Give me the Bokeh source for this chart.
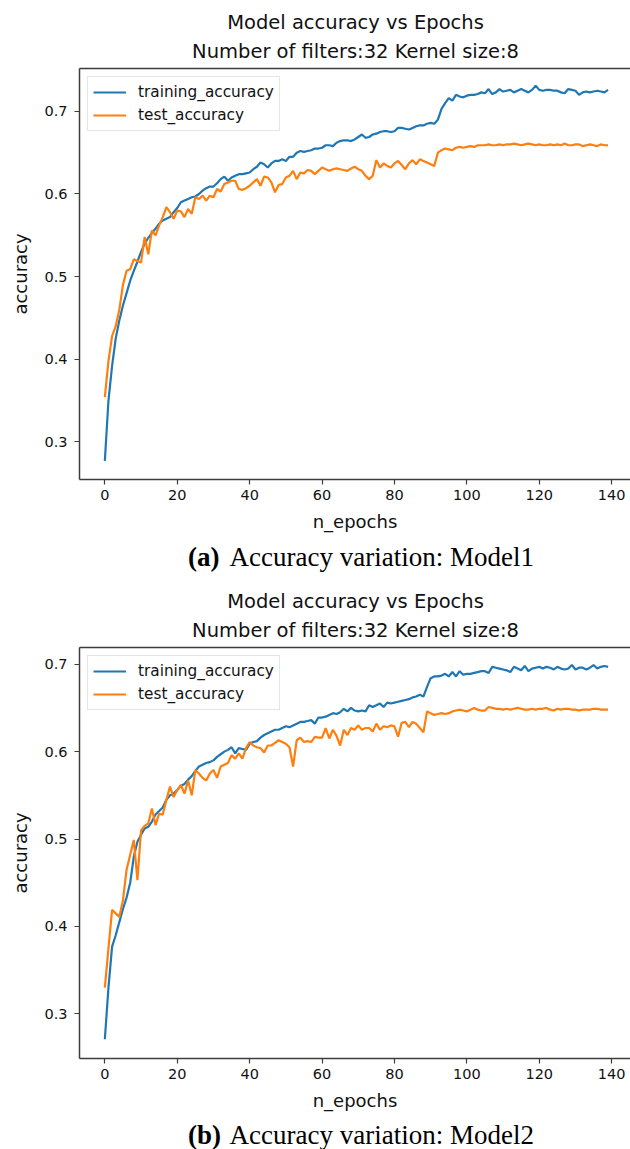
from bokeh.plotting import figure
from bokeh.models import Range1d, Label, LinearAxis, FixedTicker
from bokeh.layouts import column
from bokeh.embed import file_html
from bokeh.resources import INLINE

epochs = list(range(140))

m1_train = [
    0.277, 0.350, 0.392, 0.425, 0.447, 0.465, 0.480, 0.495, 0.507, 0.518,
    0.530, 0.540, 0.547, 0.553, 0.558, 0.564, 0.568, 0.570, 0.572, 0.578,
    0.583, 0.590, 0.592, 0.594, 0.596, 0.597, 0.600, 0.604, 0.607, 0.609,
    0.609, 0.613, 0.618, 0.621, 0.616, 0.620, 0.622, 0.624, 0.624, 0.625,
    0.626, 0.630, 0.633, 0.638, 0.636, 0.632, 0.637, 0.640, 0.640, 0.642,
    0.640, 0.645, 0.645, 0.650, 0.652, 0.651, 0.652, 0.653, 0.655, 0.655,
    0.656, 0.659, 0.659, 0.658, 0.662, 0.664, 0.665, 0.665, 0.664, 0.666,
    0.669, 0.672, 0.668, 0.669, 0.672, 0.673, 0.675, 0.676, 0.676, 0.675,
    0.676, 0.680, 0.680, 0.679, 0.678, 0.680, 0.682, 0.683, 0.683, 0.685,
    0.686, 0.685, 0.690, 0.703, 0.710, 0.716, 0.713, 0.720, 0.718, 0.717,
    0.719, 0.720, 0.720, 0.721, 0.723, 0.722, 0.727, 0.721, 0.723, 0.727,
    0.724, 0.725, 0.726, 0.723, 0.725, 0.727, 0.725, 0.723, 0.726, 0.731,
    0.726, 0.725, 0.726, 0.726, 0.725, 0.725, 0.723, 0.722, 0.727, 0.726,
    0.725, 0.720, 0.723, 0.724, 0.723, 0.724, 0.725, 0.724, 0.723, 0.726,
]

m1_test = [
    0.354, 0.398, 0.428, 0.440, 0.460, 0.490, 0.507, 0.509, 0.521, 0.519,
    0.517, 0.548, 0.527, 0.556, 0.550, 0.562, 0.572, 0.584, 0.578, 0.570,
    0.580, 0.579, 0.572, 0.582, 0.576, 0.596, 0.594, 0.598, 0.592, 0.598,
    0.596, 0.606, 0.603, 0.612, 0.614, 0.616, 0.616, 0.606, 0.605, 0.607,
    0.610, 0.614, 0.618, 0.610, 0.621, 0.620, 0.614, 0.602, 0.611, 0.612,
    0.620, 0.622, 0.628, 0.618, 0.626, 0.625, 0.629, 0.628, 0.624, 0.628,
    0.632, 0.630, 0.628, 0.630, 0.631, 0.630, 0.629, 0.628, 0.631, 0.633,
    0.630, 0.628, 0.622, 0.618, 0.622, 0.641, 0.632, 0.637, 0.634, 0.632,
    0.637, 0.640, 0.635, 0.630, 0.637, 0.641, 0.636, 0.642, 0.640, 0.638,
    0.636, 0.634, 0.650, 0.653, 0.655, 0.654, 0.653, 0.656, 0.657, 0.656,
    0.657, 0.658, 0.657, 0.659, 0.659, 0.659, 0.660, 0.659, 0.659, 0.660,
    0.659, 0.660, 0.660, 0.661, 0.660, 0.659, 0.660, 0.661, 0.660, 0.659,
    0.660, 0.659, 0.659, 0.660, 0.659, 0.660, 0.659, 0.661, 0.659, 0.659,
    0.660, 0.660, 0.658, 0.659, 0.660, 0.659, 0.658, 0.660, 0.659, 0.659,
]

m2_train = [
    0.271, 0.330, 0.377, 0.390, 0.405, 0.420, 0.433, 0.450, 0.480, 0.497,
    0.505, 0.512, 0.514, 0.520, 0.528, 0.532, 0.536, 0.545, 0.550, 0.552,
    0.556, 0.561, 0.563, 0.568, 0.572, 0.578, 0.583, 0.585, 0.587, 0.588,
    0.590, 0.594, 0.597, 0.600, 0.602, 0.605, 0.598, 0.604, 0.603, 0.602,
    0.609, 0.611, 0.612, 0.616, 0.619, 0.621, 0.623, 0.625, 0.625, 0.627,
    0.629, 0.628, 0.630, 0.632, 0.634, 0.634, 0.635, 0.636, 0.632, 0.639,
    0.639, 0.640, 0.642, 0.644, 0.643, 0.645, 0.649, 0.646, 0.650, 0.647,
    0.646, 0.647, 0.646, 0.653, 0.651, 0.653, 0.655, 0.651, 0.656, 0.655,
    0.656, 0.657, 0.658, 0.659, 0.660, 0.662, 0.663, 0.665, 0.663, 0.674,
    0.684, 0.686, 0.686, 0.687, 0.689, 0.686, 0.691, 0.686, 0.692, 0.688,
    0.689, 0.689, 0.690, 0.691, 0.692, 0.692, 0.690, 0.697, 0.696, 0.695,
    0.694, 0.693, 0.691, 0.697, 0.695, 0.693, 0.698, 0.692, 0.695, 0.696,
    0.697, 0.695, 0.697, 0.696, 0.694, 0.697, 0.695, 0.694, 0.695, 0.699,
    0.694, 0.696, 0.696, 0.694, 0.696, 0.699, 0.695, 0.697, 0.698, 0.697,
]

m2_test = [
    0.330, 0.375, 0.419, 0.415, 0.411, 0.430, 0.465, 0.482, 0.499, 0.453,
    0.510, 0.515, 0.518, 0.535, 0.516, 0.529, 0.528, 0.545, 0.560, 0.548,
    0.556, 0.562, 0.552, 0.567, 0.550, 0.579, 0.575, 0.570, 0.567, 0.575,
    0.579, 0.570, 0.583, 0.585, 0.587, 0.596, 0.592, 0.598, 0.592, 0.604,
    0.611, 0.607, 0.605, 0.604, 0.599, 0.607, 0.607, 0.610, 0.613, 0.611,
    0.609, 0.605, 0.583, 0.613, 0.616, 0.611, 0.612, 0.611, 0.617, 0.616,
    0.616, 0.627, 0.615, 0.625, 0.618, 0.607, 0.625, 0.619, 0.627, 0.625,
    0.630, 0.625, 0.627, 0.627, 0.623, 0.632, 0.625, 0.629, 0.628, 0.630,
    0.629, 0.617, 0.633, 0.634, 0.628, 0.634, 0.632, 0.627, 0.622, 0.646,
    0.644, 0.642, 0.643, 0.644, 0.643, 0.644, 0.646, 0.647, 0.648, 0.647,
    0.646, 0.648, 0.650, 0.648, 0.647, 0.647, 0.651, 0.650, 0.649, 0.649,
    0.648, 0.649, 0.648, 0.649, 0.650, 0.649, 0.648, 0.648, 0.649, 0.648,
    0.649, 0.649, 0.650, 0.648, 0.647, 0.649, 0.648, 0.649, 0.649, 0.648,
    0.648, 0.647, 0.648, 0.648, 0.648, 0.649, 0.649, 0.648, 0.648, 0.648,
]

x_ticks = [0, 20, 40, 60, 80, 100, 120, 140]
y_ticks = [0.3, 0.4, 0.5, 0.6, 0.7]

title_line1 = "Model accuracy vs Epochs"
title_line2 = "Number of filters:32 Kernel size:8"
series_names = ["training_accuracy", "test_accuracy"]
x_label = "n_epochs"
y_label = "accuracy"

BLUE = "#1f77b4"
ORANGE = "#ff7f0e"
SPINE = "#3c3c3c"
SANS = "DejaVu Sans"
SERIF = "Liberation Serif"
W = 630
LEFT = 79


def text_strip(height):
    # blank figure; its frame spans x = LEFT..W of the page, y grows downward in px
    s = figure(width=W, height=height, x_range=Range1d(LEFT, W),
               y_range=Range1d(height, 0),
               x_axis_type=None, y_axis_type=None,
               min_border_left=LEFT, min_border_right=0,
               min_border_top=0, min_border_bottom=0,
               outline_line_color=None, toolbar_location=None,
               output_backend="svg", background_fill_color="white",
               border_fill_color="white")
    s.xgrid.visible = False
    s.ygrid.visible = False
    return s


def title_strip():
    s = text_strip(64)
    s.add_layout(Label(x=355, y=21.5, text=title_line1, text_align="center",
                       text_baseline="alphabetic", text_font=SANS,
                       text_font_size="19.5px", text_color="#111111"))
    s.add_layout(Label(x=355, y=50.5, text=title_line2, text_align="center",
                       text_baseline="alphabetic", text_font=SANS,
                       text_font_size="19.5px", text_color="#111111"))
    return s


def caption_strip(tag, caption, height, base):
    s = text_strip(height)
    s.add_layout(Label(x=187.6, y=base, text=tag, text_align="left",
                       text_baseline="alphabetic", text_font=SERIF,
                       text_font_style="bold", text_font_size="27px",
                       text_color="#000000"))
    s.add_layout(Label(x=229, y=base, text=caption, text_align="left",
                       text_baseline="alphabetic", text_font=SERIF,
                       text_font_size="27px", text_color="#000000"))
    return s


def main_panel(train, test, y_lo, y_hi):
    frame_h = 411
    top_b, bot_b = 4, 61
    p = figure(width=W, height=top_b + frame_h + bot_b,
               x_range=Range1d(-7.0, 145.2), y_range=Range1d(y_lo, y_hi),
               output_backend="svg", toolbar_location=None,
               min_border_left=LEFT, min_border_right=0,
               min_border_top=top_b, min_border_bottom=bot_b,
               outline_line_color=None, background_fill_color="white",
               border_fill_color="white")
    p.xgrid.visible = False
    p.ygrid.visible = False

    p.line(epochs, train, line_color=BLUE, line_width=2.2, legend_label=series_names[0])
    p.line(epochs, test, line_color=ORANGE, line_width=2.2, legend_label=series_names[1])

    for ax in (p.xaxis[0], p.yaxis[0]):
        ax.axis_line_color = SPINE
        ax.axis_line_width = 1.5
        ax.major_tick_line_color = SPINE
        ax.major_tick_line_width = 1.2
        ax.major_tick_out = 5
        ax.major_tick_in = 0
        ax.minor_tick_line_color = None
        ax.major_label_text_font = SANS
        ax.major_label_text_font_size = "14.5px"
        ax.major_label_text_color = "#111111"
        ax.axis_label_text_font = SANS
        ax.axis_label_text_font_size = "18px"
        ax.axis_label_text_font_style = "normal"
        ax.axis_label_text_color = "#111111"

    p.xaxis.ticker = FixedTicker(ticks=x_ticks)
    p.yaxis.ticker = FixedTicker(ticks=y_ticks)
    p.xaxis.axis_label = x_label
    p.yaxis.axis_label = y_label
    p.xaxis.major_label_standoff = 5
    p.yaxis.major_label_standoff = 7
    p.xaxis.axis_label_standoff = 8
    p.yaxis.axis_label_standoff = 10

    top = LinearAxis(ticker=FixedTicker(ticks=[]), axis_line_color=SPINE,
                     axis_line_width=1.5, major_tick_line_color=None,
                     minor_tick_line_color=None, major_tick_out=0,
                     major_tick_in=0, minor_tick_out=0, major_label_standoff=0,
                     major_label_text_font_size="0px")
    p.add_layout(top, "above")

    lg = p.legend[0]
    lg.location = "top_left"
    lg.margin = 8
    lg.padding = 5
    lg.spacing = 3
    lg.label_height = 20
    lg.glyph_height = 20
    lg.glyph_width = 33
    lg.label_standoff = 12
    lg.label_text_font = SANS
    lg.label_text_font_size = "15.3px"
    lg.label_text_color = "#111111"
    lg.border_line_color = "#cccccc"
    lg.border_line_width = 1
    lg.background_fill_alpha = 0.8
    return p


t1 = title_strip()
p1 = main_panel(m1_train, m1_test, 0.2544, 0.7519)
c1 = caption_strip("(a)", "Accuracy variation: Model1", 39, 16)
t2 = title_strip()
p2 = main_panel(m2_train, m2_test, 0.2490, 0.7191)
c2 = caption_strip("(b)", "Accuracy variation: Model2", 30, 15)

layout = column(t1, p1, c1, t2, p2, c2, spacing=0)
open("out.html", "w").write(file_html(layout, INLINE))
